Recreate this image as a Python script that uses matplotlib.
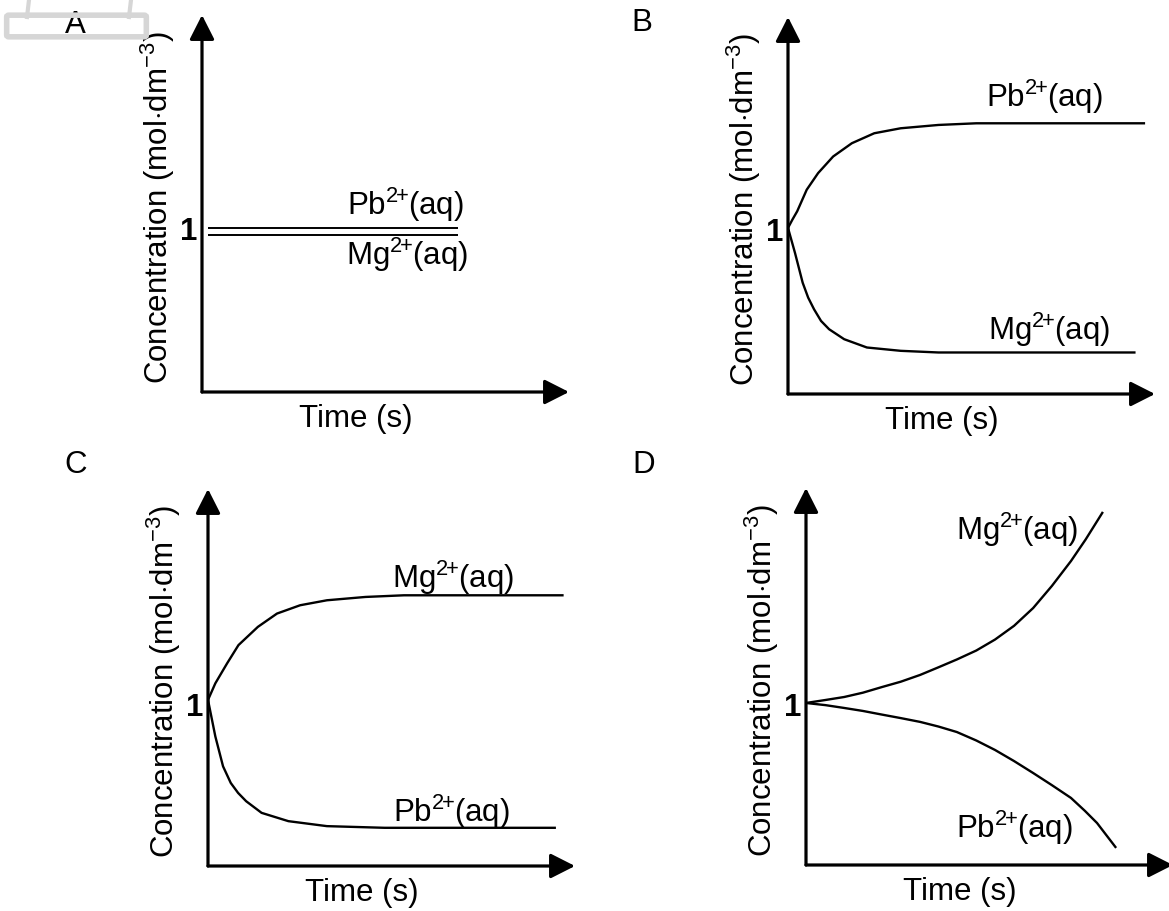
import matplotlib
matplotlib.use("Agg")
import matplotlib.pyplot as plt
from matplotlib.patches import FancyBboxPatch
from matplotlib.lines import Line2D

plt.rcParams['font.family'] = ['Liberation Sans', 'DejaVu Sans']
plt.rcParams['mathtext.fontset'] = 'custom'
plt.rcParams['mathtext.rm'] = 'Liberation Sans'
plt.rcParams['mathtext.it'] = 'Liberation Sans:italic'
plt.rcParams['mathtext.bf'] = 'Liberation Sans:bold'

# Data (time in arbitrary units 0-10, concentration with 1 = start)
# Panel A: two flat lines
a_time = [0.16, 6.98]
a_pb = [1.0, 1.0]
a_mg = [0.958, 0.958]

# Panel B: Pb rises, Mg falls
b_pb_time = [0.0, 0.12, 0.25, 0.51, 0.82, 1.23, 1.74, 2.35, 3.07, 4.10, 5.13, 9.73]
b_pb_conc = [1.0, 1.05, 1.10, 1.23, 1.33, 1.43, 1.51, 1.57, 1.60, 1.62, 1.63, 1.63]
b_mg_time = [0.0, 0.19, 0.40, 0.55, 0.71, 0.90, 1.12, 1.53, 2.15, 3.07, 4.10, 9.47]
b_mg_conc = [1.0, 0.85, 0.67, 0.58, 0.51, 0.44, 0.39, 0.33, 0.28, 0.26, 0.25, 0.25]

# Panel C: Mg rises, Pb falls
c_mg_time = [0.0, 0.20, 0.52, 0.83, 1.36, 1.88, 2.51, 3.24, 4.29, 5.34, 9.69]
c_mg_conc = [1.0, 1.10, 1.22, 1.33, 1.44, 1.52, 1.57, 1.60, 1.62, 1.63, 1.63]
c_pb_time = [0.0, 0.20, 0.41, 0.62, 0.82, 1.04, 1.46, 2.19, 3.24, 4.81, 9.48]
c_pb_conc = [1.0, 0.78, 0.60, 0.50, 0.44, 0.39, 0.32, 0.27, 0.24, 0.23, 0.23]

# Panel D: Mg grows faster and faster, Pb drops faster and faster
d_mg_time = [0.0, 0.53, 1.04, 1.55, 2.07, 2.58, 3.11, 3.61, 4.11, 4.64, 5.15, 5.67,
             6.19, 6.70, 7.22, 7.62, 8.09]
d_mg_conc = [1.0, 1.018, 1.036, 1.062, 1.096, 1.128, 1.169, 1.215, 1.262, 1.316, 1.382,
             1.465, 1.572, 1.705, 1.855, 1.985, 2.151]
d_pb_time = [0.0, 0.53, 1.04, 1.55, 2.07, 2.58, 3.11, 3.61, 4.11, 4.64, 5.15, 5.67,
             6.19, 6.70, 7.22, 7.60, 7.93, 8.45]
d_pb_conc = [1.0, 0.987, 0.97, 0.952, 0.93, 0.909, 0.886, 0.858, 0.825, 0.774, 0.717,
             0.650, 0.578, 0.505, 0.428, 0.35, 0.277, 0.127]

PB = r'$\mathrm{Pb}^{2\!\!+}\!\mathrm{(aq)}$'
MG = r'$\mathrm{Mg}^{2\!\!+}\!\mathrm{(aq)}$'
FS = 22.5

W, H = 1169, 911


def make_axes(fig, left_px, bottom_px, ylim, letter, letter_pos):
    ax = fig.add_axes([left_px / W, (H - bottom_px) / H, 367 / W, 377 / H])
    ax.set_xlim(0, 10)
    ax.set_ylim(*ylim)
    for s in ax.spines.values():
        s.set_visible(False)
    ax.set_xticks([])
    ax.set_yticks([])
    ax.patch.set_alpha(0)
    arrow = dict(arrowstyle='-|>,head_length=0.75,head_width=0.38', lw=2.3,
                 color='black', shrinkA=0, shrinkB=0, mutation_scale=20)
    ax.annotate('', xy=(0, 1), xytext=(0, 0), xycoords='axes fraction',
                arrowprops=arrow, annotation_clip=False)
    ax.annotate('', xy=(1, 0), xytext=(0, 0), xycoords='axes fraction',
                arrowprops=arrow, annotation_clip=False)
    ax.text(0.42, -0.072, 'Time (s)', transform=ax.transAxes, fontsize=FS,
            ha='center', va='center')
    ax.text(-0.12, 0.49, r'Concentration (mol$\cdot$dm$^{-3}$)', transform=ax.transAxes,
            fontsize=FS, rotation=90, ha='center', va='center')
    ax.text(letter_pos[0], letter_pos[1], letter, transform=ax.transAxes,
            fontsize=FS, ha='center', va='center')
    return ax


def one_label(ax, y):
    ax.text(-0.012, y, '1', transform=ax.get_yaxis_transform(), fontsize=FS,
            fontweight='bold', ha='right', va='center')


def curve(ax, x, y, lw=1.7):
    ax.plot(x, y, color='black', lw=lw, solid_joinstyle='round', solid_capstyle='butt')


fig = plt.figure(figsize=(W / 100, H / 100), dpi=100)

# A
ax = make_axes(fig, 202, 392, (0.012, 2.282), 'A', (-0.346, 0.973))
curve(ax, a_time, a_pb, lw=1.4)
curve(ax, a_time, a_mg, lw=1.4)
one_label(ax, 0.975)
ax.text(0.553, 0.496, PB, transform=ax.transAxes, fontsize=FS, ha='center', va='center')
ax.text(0.559, 0.363, MG, transform=ax.transAxes, fontsize=FS, ha='center', va='center')
# faint scanner mark at the top-left corner
fig.patches.append(FancyBboxPatch((9 / W, (H - 35) / H), 135 / W, 18 / H,
                                  boxstyle='round,pad=0.002', transform=fig.transFigure,
                                  fill=False, ec='#d6d6d6', lw=4, figure=fig))
for x0, x1 in [(29, 27), (131, 129)]:
    fig.add_artist(Line2D([x0 / W, x1 / W], [1.0, (H - 17) / H], color='#d6d6d6',
                          lw=3, transform=fig.transFigure))

# B
ax = make_axes(fig, 788, 394, (0.0, 2.27), 'B', (-0.398, 0.984))
curve(ax, b_pb_time, b_pb_conc)
curve(ax, b_mg_time, b_mg_conc)
one_label(ax, 0.97)
ax.text(0.700, 0.788, PB, transform=ax.transAxes, fontsize=FS, ha='center', va='center')
ax.text(0.711, 0.170, MG, transform=ax.transAxes, fontsize=FS, ha='center', va='center')

# C
ax = make_axes(fig, 208, 866, (0.0, 2.27), 'C', (-0.362, 1.064))
curve(ax, c_mg_time, c_mg_conc)
curve(ax, c_pb_time, c_pb_conc)
one_label(ax, 0.95)
ax.text(0.668, 0.764, MG, transform=ax.transAxes, fontsize=FS, ha='center', va='center')
ax.text(0.662, 0.143, PB, transform=ax.transAxes, fontsize=FS, ha='center', va='center')

# D
ax = make_axes(fig, 806, 865, (0.024, 2.295), 'D', (-0.441, 1.061))
curve(ax, d_mg_time, d_mg_conc)
curve(ax, d_pb_time, d_pb_conc)
one_label(ax, 0.97)
ax.text(0.575, 0.889, MG, transform=ax.transAxes, fontsize=FS, ha='center', va='center')
ax.text(0.567, 0.098, PB, transform=ax.transAxes, fontsize=FS, ha='center', va='center')

fig.savefig('out.png', dpi=100, facecolor='white')
